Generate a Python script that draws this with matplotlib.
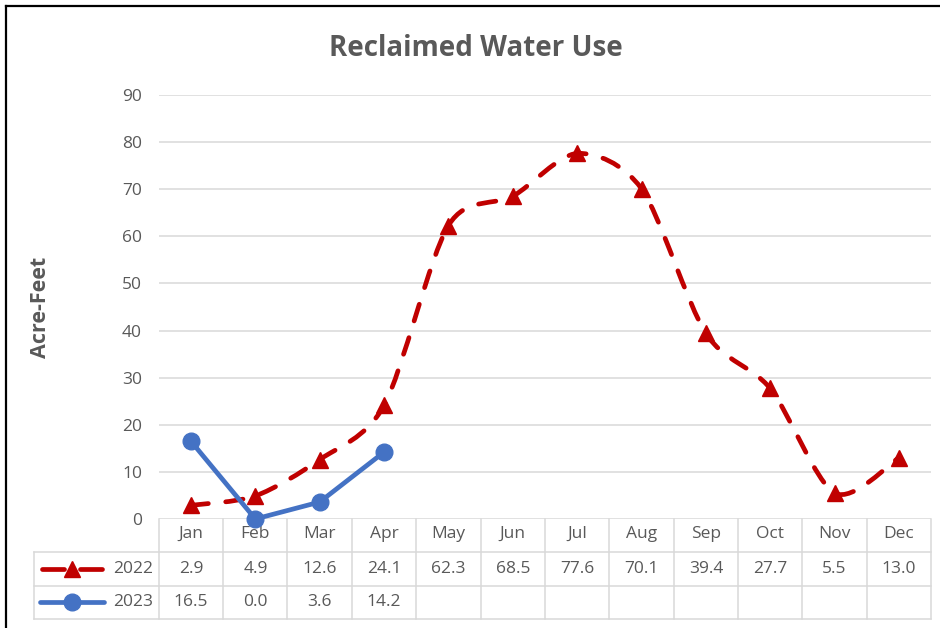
import numpy as np
import matplotlib.pyplot as plt
from matplotlib.path import Path
from matplotlib.patches import PathPatch
from matplotlib.lines import Line2D

months = ["Jan", "Feb", "Mar", "Apr", "May", "Jun",
          "Jul", "Aug", "Sep", "Oct", "Nov", "Dec"]
use_2022 = [2.9, 4.9, 12.6, 24.1, 62.3, 68.5, 77.6, 70.1, 39.4, 27.7, 5.5, 13.0]
use_2023 = [16.5, 0.0, 3.6, 14.2]
yticks = [0, 10, 20, 30, 40, 50, 60, 70, 80, 90]

RED = "#C00000"
BLUE = "#4472C4"
GRAY = "#595959"
GRID = "#D9D9D9"
FONT = "Open Sans"

plt.rcParams["font.family"] = [FONT, "DejaVu Sans"]


def smooth_path(xs, ys, k=7.0):
    # Excel-like smoothed line: cubic bezier through every point
    p = np.column_stack([xs, ys]).astype(float)
    n = len(p)
    verts = [p[0]]
    codes = [Path.MOVETO]
    for i in range(n - 1):
        p0 = p[i - 1] if i > 0 else p[i]
        p3 = p[i + 2] if i + 2 < n else p[i + 1]
        c1 = p[i] + (p[i + 1] - p0) / k
        c2 = p[i + 1] - (p3 - p[i]) / k
        verts += [c1, c2, p[i + 1]]
        codes += [Path.CURVE4] * 3
    return Path(verts, codes)


fig = plt.figure(figsize=(9.4, 6.28), dpi=100)
ax = fig.add_axes([0.1689, 0.1736, 0.8217, 0.6751])

x22 = np.arange(len(use_2022))
x23 = np.arange(len(use_2023))

patch = PathPatch(smooth_path(x22, use_2022), facecolor="none", edgecolor=RED,
                  lw=3.4, linestyle=(0, (3.7, 3.7)), capstyle="round",
                  joinstyle="round", zorder=3, clip_on=False)
ax.add_patch(patch)
ax.plot(x22, use_2022, linestyle="none", marker="^", markersize=11,
        color=RED, zorder=4, clip_on=False)

ax.plot(x23, use_2023, color=BLUE, lw=3.4, marker="o", markersize=12,
        solid_capstyle="round", zorder=5, clip_on=False)

ax.set_xlim(-0.5, 11.5)
ax.set_ylim(0, 90)
ax.set_yticks(yticks)
ax.set_xticks([])
ax.yaxis.grid(True, color=GRID, lw=1.1)
ax.set_axisbelow(True)
for s in ax.spines.values():
    s.set_visible(False)
ax.tick_params(axis="y", length=0, pad=12, labelsize=12.5, labelcolor=GRAY)

# data table under the plot
xt = ax.get_xaxis_transform()
rows = [0.0, -0.0778, -0.158, -0.2358]
lab_left = -0.1616
for i in range(len(months) + 1):
    ax.add_line(Line2D([i - 0.5, i - 0.5], [rows[0], rows[-1]], transform=xt,
                       color=GRID, lw=1.1, clip_on=False))
ax.add_line(Line2D([lab_left, lab_left], [rows[1], rows[-1]], transform=ax.transAxes,
                   color=GRID, lw=1.1, clip_on=False))
for r in rows[1:]:
    ax.add_line(Line2D([lab_left, 1.0], [r, r], transform=ax.transAxes,
                       color=GRID, lw=1.1, clip_on=False))

centers = [(rows[k] + rows[k + 1]) / 2 for k in range(3)]
kw = dict(transform=xt, ha="center", va="center", fontsize=12.5, color=GRAY,
          clip_on=False)
for i, m in enumerate(months):
    ax.text(i, centers[0] + 0.004, m, **kw)
for i, v in enumerate(use_2022):
    ax.text(i, centers[1], f"{v:.1f}", **kw)
for i, v in enumerate(use_2023):
    ax.text(i, centers[2], f"{v:.1f}", **kw)

# legend keys inside the row label cells
ta = ax.transAxes
y1, y2 = centers[1], centers[2]
for xa, xb in [(-0.1512, -0.1230), (-0.1018, -0.0736)]:
    ax.add_line(Line2D([xa, xb], [y1, y1], transform=ta, color=RED, lw=3.4,
                       solid_capstyle="round", clip_on=False))
ax.add_line(Line2D([-0.1124], [y1], transform=ta, color=RED, marker="^",
                   markersize=11, linestyle="none", clip_on=False))
ax.add_line(Line2D([-0.1538, -0.0709], [y2, y2], transform=ta, color=BLUE, lw=3.4,
                   solid_capstyle="round", clip_on=False))
ax.add_line(Line2D([-0.1124], [y2], transform=ta, color=BLUE, marker="o",
                   markersize=12, linestyle="none", clip_on=False))
for yc, label in [(y1, "2022"), (y2, "2023")]:
    ax.text(-0.007, yc, label, transform=ta, ha="right", va="center",
            fontsize=12.5, color=GRAY, clip_on=False)

fig.text(0.506, 0.922, "Reclaimed Water Use", ha="center", va="center",
         fontsize=20, fontweight="bold", color=GRAY)
fig.text(0.0426, 0.51, "Acre-Feet", ha="center", va="center", rotation=90,
         fontsize=15.5, fontweight="bold", color=GRAY)

# outer frame (left and top edges visible)
fig.add_artist(Line2D([6 / 940, 6 / 940], [0, 1 - 6 / 628], color="black", lw=1.6))
fig.add_artist(Line2D([6 / 940, 1], [1 - 6 / 628, 1 - 6 / 628], color="black", lw=1.6))

fig.savefig("out.png", dpi=100)
